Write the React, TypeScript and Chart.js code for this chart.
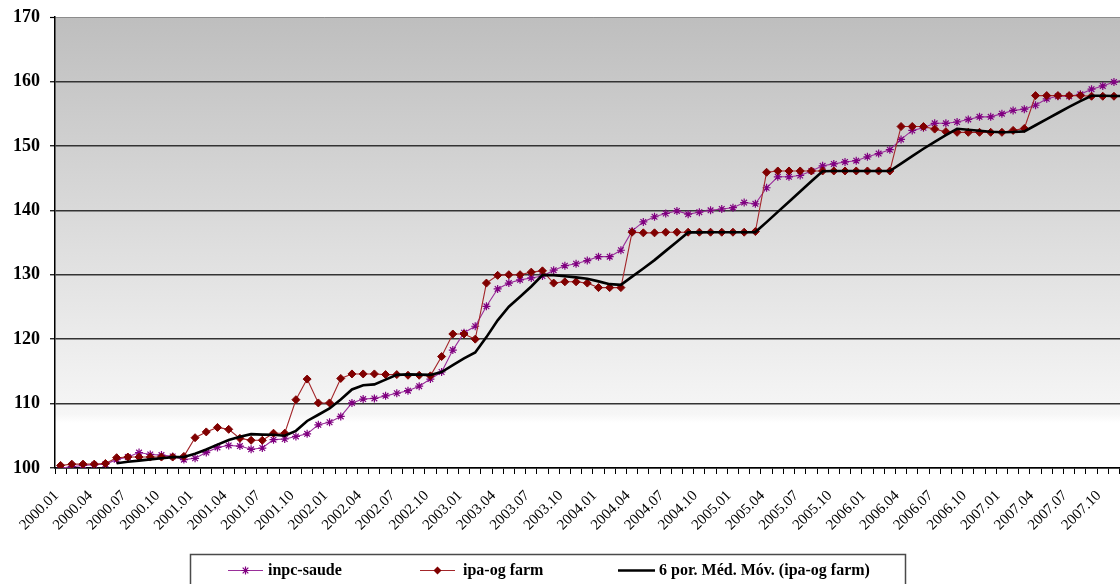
import React, { useEffect, useRef } from "react";
import { Chart, registerables } from "chart.js";

Chart.register(...registerables);

// ---------- data ----------
const years = [2000, 2001, 2002, 2003, 2004, 2005, 2006, 2007];
const monthCodes = ["01", "02", "03", "04", "05", "06", "07", "08", "09", "10", "11", "12"];
const categories: string[] = years.flatMap((y) => monthCodes.map((m) => `${y}.${m}`));

const inpcSaude = [
  100.0, 100.2, 100.4, 100.5, 100.6, 101.3, 101.7, 102.4, 102.1, 102.0, 101.8, 101.3,
  101.5, 102.4, 103.2, 103.5, 103.4, 102.9, 103.1, 104.4, 104.5, 104.9, 105.3, 106.7,
  107.1, 108.0, 110.1, 110.7, 110.8, 111.2, 111.6, 112.0, 112.7, 113.8, 114.9, 118.3,
  121.0, 122.0, 125.1, 127.8, 128.7, 129.2, 129.5, 129.8, 130.7, 131.4, 131.7, 132.2,
  132.8, 132.8, 133.8, 136.8, 138.2, 139.0, 139.5, 139.9, 139.4, 139.7, 140.0, 140.2,
  140.4, 141.2, 141.0, 143.5, 145.2, 145.2, 145.4, 146.1, 146.9, 147.2, 147.5, 147.7,
  148.3, 148.8, 149.4, 151.0, 152.4, 152.8, 153.5, 153.5, 153.7, 154.1, 154.5, 154.5,
  155.0, 155.5, 155.7, 156.3, 157.3, 157.7, 157.7, 158.0, 158.8, 159.3, 159.9, 160.3,
];

const ipaOgFarm = [
  100.4, 100.6, 100.6, 100.6, 100.7, 101.6, 101.7, 101.7, 101.7, 101.7, 101.7, 101.8,
  104.7, 105.6, 106.3, 106.0, 104.6, 104.3, 104.3, 105.4, 105.4, 110.6, 113.8, 110.1,
  110.1, 113.9, 114.6, 114.6, 114.6, 114.5, 114.5, 114.4, 114.4, 114.3, 117.3, 120.8,
  120.8, 120.0, 128.7, 129.9, 130.0, 130.0, 130.4, 130.6, 128.7, 128.9, 128.9, 128.7,
  128.0, 128.0, 128.0, 136.6, 136.5, 136.5, 136.6, 136.6, 136.6, 136.6, 136.6, 136.6,
  136.6, 136.6, 136.7, 145.9, 146.1, 146.1, 146.1, 146.1, 146.1, 146.1, 146.1, 146.1,
  146.1, 146.1, 146.1, 153.0, 153.0, 153.0, 152.6, 152.2, 152.1, 152.1, 152.1, 152.1,
  152.1, 152.4, 152.7, 157.8, 157.8, 157.8, 157.8, 157.8, 157.7, 157.7, 157.7, 157.7,
];

// Excel trendline of the chart: 6-period moving average of ipa-og farm
const maPeriod = 6;
const ipaMovingAvg: (number | null)[] = ipaOgFarm.map((_, i) => {
  if (i < maPeriod - 1) return null;
  const win = ipaOgFarm.slice(i - maPeriod + 1, i + 1);
  return win.reduce((a, b) => a + b, 0) / maPeriod;
});

const yTicks = [100, 110, 120, 130, 140, 150, 160, 170];
const seriesNames = ["inpc-saude", "ipa-og farm", "6 por. Méd. Móv. (ipa-og farm)"];

const SERIF = "'Liberation Serif', 'Times New Roman', serif";
const PURPLE_LINE = "#9a2f9a";
const PURPLE_MARK = "#800080";
const RED_LINE = "#a3262a";
const RED_MARK = "#800000";

const bgPlugin = {
  id: "bgGradient",
  beforeDraw(chart: any) {
    const { ctx, chartArea } = chart;
    if (!chartArea) return;
    const g = ctx.createLinearGradient(0, chartArea.top, 0, chartArea.bottom);
    g.addColorStop(0, "#bebebe");
    g.addColorStop(0.88, "#f6f6f6");
    g.addColorStop(0.9, "#ffffff");
    g.addColorStop(1, "#ffffff");
    ctx.save();
    ctx.fillStyle = g;
    ctx.fillRect(chartArea.left, chartArea.top, chartArea.right - chartArea.left, chartArea.bottom - chartArea.top);
    ctx.restore();
  },
};

function drawStar(ctx: CanvasRenderingContext2D, x: number, y: number, r: number) {
  ctx.beginPath();
  ctx.moveTo(x - r, y);
  ctx.lineTo(x + r, y);
  ctx.moveTo(x, y - r);
  ctx.lineTo(x, y + r);
  const d = r * Math.SQRT1_2;
  ctx.moveTo(x - d, y - d);
  ctx.lineTo(x + d, y + d);
  ctx.moveTo(x - d, y + d);
  ctx.lineTo(x + d, y - d);
  ctx.stroke();
}

const legendPlugin = {
  id: "boxLegend",
  afterDraw(chart: any) {
    const ctx: CanvasRenderingContext2D = chart.ctx;
    ctx.save();
    ctx.fillStyle = "#ffffff";
    ctx.fillRect(190, 554, 715, 60);
    ctx.strokeStyle = "#4a4a4a";
    ctx.lineWidth = 1.5;
    ctx.strokeRect(190.5, 554.5, 715, 60);
    const cy = 570.5;
    ctx.font = `bold 16px ${SERIF}`;
    ctx.textBaseline = "middle";
    ctx.textAlign = "left";

    // inpc-saude
    ctx.strokeStyle = PURPLE_LINE;
    ctx.lineWidth = 1.2;
    ctx.beginPath();
    ctx.moveTo(228, cy);
    ctx.lineTo(263, cy);
    ctx.stroke();
    ctx.strokeStyle = PURPLE_MARK;
    drawStar(ctx, 245.5, cy, 4);
    ctx.fillStyle = "#000";
    ctx.fillText(seriesNames[0], 268, cy);

    // ipa-og farm
    ctx.strokeStyle = RED_LINE;
    ctx.lineWidth = 1.2;
    ctx.beginPath();
    ctx.moveTo(420, cy);
    ctx.lineTo(455, cy);
    ctx.stroke();
    ctx.fillStyle = RED_MARK;
    ctx.beginPath();
    ctx.moveTo(437.5, cy - 4);
    ctx.lineTo(441.5, cy);
    ctx.lineTo(437.5, cy + 4);
    ctx.lineTo(433.5, cy);
    ctx.closePath();
    ctx.fill();
    ctx.fillStyle = "#000";
    ctx.fillText(seriesNames[1], 463, cy);

    // moving average
    ctx.strokeStyle = "#000";
    ctx.lineWidth = 2.5;
    ctx.beginPath();
    ctx.moveTo(618, cy);
    ctx.lineTo(655, cy);
    ctx.stroke();
    ctx.fillStyle = "#000";
    ctx.fillText(seriesNames[2], 659, cy);
    ctx.restore();
  },
};

export default function App() {
  const ref = useRef<HTMLCanvasElement | null>(null);

  useEffect(() => {
    if (!ref.current) return;
    const chart = new Chart(ref.current, {
      type: "line",
      data: {
        labels: categories,
        datasets: [
          {
            label: seriesNames[2],
            data: ipaMovingAvg,
            borderColor: "#000000",
            borderWidth: 2.6,
            pointRadius: 0,
            tension: 0,
            order: 0,
          },
          {
            label: seriesNames[1],
            data: ipaOgFarm,
            borderColor: RED_LINE,
            borderWidth: 1.1,
            pointStyle: "rectRot",
            pointRadius: 4,
            pointBackgroundColor: RED_MARK,
            pointBorderColor: RED_MARK,
            pointBorderWidth: 1,
            tension: 0,
            order: 1,
          },
          {
            label: seriesNames[0],
            data: inpcSaude,
            borderColor: PURPLE_LINE,
            borderWidth: 1.1,
            pointStyle: "star",
            pointRadius: 4,
            pointBorderColor: PURPLE_MARK,
            pointBackgroundColor: PURPLE_MARK,
            pointBorderWidth: 1.2,
            tension: 0,
            order: 2,
          },
        ],
      },
      options: {
        animation: false,
        responsive: false,
        maintainAspectRatio: false,
        layout: { padding: { left: 0, top: 17, right: 19, bottom: 62 } },
        plugins: {
          legend: { display: false },
          tooltip: { enabled: false },
          title: { display: false },
        },
        scales: {
          x: {
            type: "category",
            offset: true,
            afterFit: (scale: any) => {
              scale.height = 80;
            },
            grid: {
              offset: true,
              drawOnChartArea: false,
              drawTicks: true,
              tickLength: 6,
              tickColor: "#000",
              tickWidth: 1,
            },
            border: { display: true, color: "#000", width: 1.5 },
            ticks: {
              autoSkip: false,
              maxRotation: 45,
              minRotation: 45,
              padding: 13,
              labelOffset: -4,
              color: "#000",
              font: { family: SERIF, size: 15 },
              callback: (_v: any, i: number) => (i % 3 === 0 ? categories[i] : ""),
            },
          },
          y: {
            min: yTicks[0],
            max: yTicks[yTicks.length - 1],
            afterFit: (scale: any) => {
              scale.width = 55;
              scale.paddingTop = 0;
              scale.paddingBottom = 0;
            },
            afterBuildTicks: (scale: any) => {
              scale.ticks = yTicks.map((v) => ({ value: v }));
            },
            grid: {
              color: (c: any) => (c.tick && c.tick.value === 170 ? "#8c8c8c" : "#333333"),
              lineWidth: (c: any) => (c.tick && c.tick.value === 170 ? 1 : 1.5),
              drawTicks: true,
              tickLength: 5,
              tickColor: "#000",
              tickWidth: 1.2,
            },
            border: { display: true, color: "#000", width: 1.5 },
            ticks: {
              padding: 10,
              color: "#000",
              font: { family: SERIF, size: 18, weight: "bold" },
            },
          },
        },
      },
      plugins: [bgPlugin, legendPlugin],
    });
    return () => chart.destroy();
  }, []);

  return (
    <div
      style={{
        position: "fixed",
        left: 0,
        top: 0,
        width: 1120,
        height: 584,
        overflow: "hidden",
        background: "#ffffff",
      }}
    >
      <canvas ref={ref} width={1151} height={610} style={{ display: "block" }} />
    </div>
  );
}
